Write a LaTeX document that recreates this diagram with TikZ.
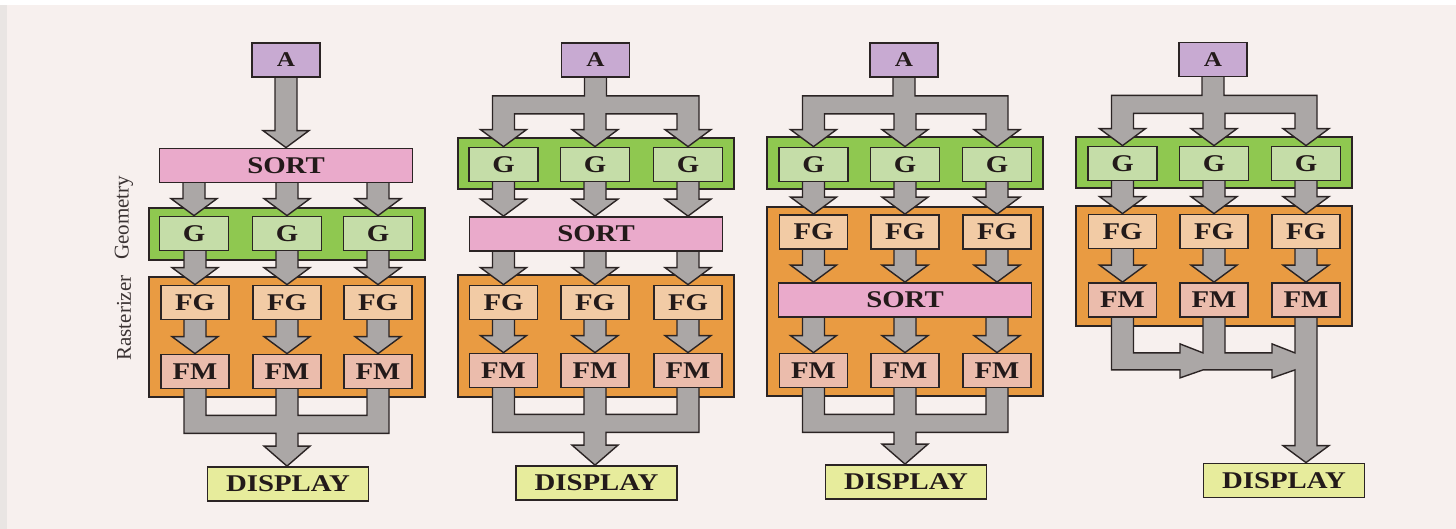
\documentclass[tikz,border=0pt]{standalone}
\usepackage{fontspec}
\setmainfont{Liberation Serif}
\newfontfamily\boxfont[FakeStretch=1.2]{Liberation Serif}
\usetikzlibrary{calc}
\pgfdeclarelayer{bg}
\pgfdeclarelayer{mid}
\pgfsetlayers{bg,mid,main}
\definecolor{bgC}{HTML}{F7F0EE}
\definecolor{bandC}{HTML}{E9E5E3}
\definecolor{aC}{HTML}{C8AAD2}
\definecolor{sortC}{HTML}{EAAACB}
\definecolor{grnC}{HTML}{8FC850}
\definecolor{gC}{HTML}{C5DDA8}
\definecolor{orgC}{HTML}{E99B42}
\definecolor{fgC}{HTML}{F2CBA5}
\definecolor{fmC}{HTML}{EBBCAC}
\definecolor{dispC}{HTML}{E7EC9C}
\definecolor{arrC}{HTML}{ABA7A6}
\definecolor{lineC}{HTML}{2B2424}
\definecolor{txtC}{HTML}{231A1A}
\definecolor{lblC}{HTML}{3A3232}

% simple block arrow: from node #1 to node #2, in the column of node #3
\newcommand{\barrow}[3]{%
  \coordinate (t) at (#3.center |- #2.north);
  \coordinate (s) at (#3.center |- #1.south);
  \draw[arr] ($(s)+(-11,-3)$) -- ($(t)+(-11,-17)$) -- ++(-12,0) -- (t)
    -- ++(23,-17) -- ++(-12,0) -- ($(s)+(11,-3)$) -- cycle;}

% fan-out from #1 to #2,#3,#4
\newcommand{\fanout}[4]{%
  \draw[arr] ($(#1.south)+(-11,-3)$)
    -- ($(#1.south)+(-11,18)$)
    -| ($(#2.north)+(-11,-17)$)
    -- ++(-12,0) -- (#2.north) -- ++(23,-17) -- ++(-12,0)
    -- ($(#2.north |- #1.south)+(11,36)$)
    -| ($(#3.north)+(-11,-17)$)
    -- ++(-12,0) -- (#3.north) -- ++(23,-17) -- ++(-12,0)
    -- ($(#3.north |- #1.south)+(11,36)$)
    -| ($(#4.north)+(-11,-17)$)
    -- ++(-12,0) -- (#4.north) -- ++(23,-17) -- ++(-12,0)
    -- ($(#4.north |- #1.south)+(11,18)$)
    -- ($(#1.south)+(11,18)$)
    -- ($(#1.south)+(11,-3)$) -- cycle;}

% fan-in from #1,#2,#3 to #4 (through the middle column)
\newcommand{\fanin}[4]{%
  \coordinate (t) at (#2.center |- #4.north);
  \draw[arr] ($(#1.south)+(-11,-3)$)
    -- ($(#1.south)+(-11,44)$)
    -| ($(t)+(-11,-20)$)
    -- ++(-12,0) -- (t) -- ++(23,-20) -- ++(-12,0)
    |- ($(#3.south)+(11,44)$)
    -- ($(#3.south)+(11,-3)$)
    -- ($(#3.south)+(-11,-3)$)
    -- ($(#3.south)+(-11,26)$)
    -- ($(#2.south)+(11,26)$)
    -- ($(#2.south)+(11,-3)$)
    -- ($(#2.south)+(-11,-3)$)
    -- ($(#2.south)+(-11,26)$)
    -- ($(#1.south)+(11,26)$)
    -- ($(#1.south)+(11,-3)$) -- cycle;}

% fan-in to the right column, with right-pointing heads
\newcommand{\faninR}[4]{%
  \coordinate (t) at (#3.center |- #4.north);
  \draw[arr] ($(#1.south)+(-11,-3)$)
    -- ($(#1.south)+(-11,52)$)
    -- ($(#2.south)+(-34,52)$)
    -- ($(#2.south)+(-34,60)$)
    -- ($(#2.south)+(-11,52)$)
    -- ($(#3.south)+(-34,52)$)
    -- ($(#3.south)+(-34,60)$)
    -- ($(#3.south)+(-11,52)$)
    -- ($(t)+(-11,-17)$)
    -- ++(-12,0) -- (t) -- ++(23,-17) -- ++(-12,0)
    -- ($(#3.south)+(11,-3)$)
    -- ($(#3.south)+(-11,-3)$)
    -- ($(#3.south)+(-11,35)$)
    -- ($(#3.south)+(-34,26)$)
    -- ($(#3.south)+(-34,35)$)
    -- ($(#2.south)+(11,35)$)
    -- ($(#2.south)+(11,-3)$)
    -- ($(#2.south)+(-11,-3)$)
    -- ($(#2.south)+(-11,35)$)
    -- ($(#2.south)+(-34,26)$)
    -- ($(#2.south)+(-34,35)$)
    -- ($(#1.south)+(11,35)$)
    -- ($(#1.south)+(11,-3)$) -- cycle;}

\begin{document}
\begin{tikzpicture}[x=1pt,y=-1pt,
  box/.style={draw=lineC, line width=1.8pt, inner sep=0pt, text=txtC,
    font=\boxfont\bfseries\fontsize{24}{24}\selectfont},
  abox/.style={box, fill=aC, minimum width=68pt, minimum height=34pt,
    font=\boxfont\bfseries\fontsize{21}{21}\selectfont},
  sortbox/.style={box, fill=sortC, minimum width=253pt, minimum height=34pt},
  gbox/.style={box, fill=gC, minimum width=69pt, minimum height=34pt},
  fgbox/.style={box, fill=fgC, minimum width=68pt, minimum height=34pt},
  fmbox/.style={box, fill=fmC, minimum width=68pt, minimum height=34pt},
  dispbox/.style={box, fill=dispC, minimum width=161pt, minimum height=34pt},
  grncont/.style={draw=lineC, line width=2pt, fill=grnC, inner sep=0pt, minimum width=276pt},
  orgcont/.style={draw=lineC, line width=2pt, fill=orgC, inner sep=0pt, minimum width=276pt},
  arr/.style={fill=arrC, draw=lineC, line width=1.4pt, line join=miter},
  lbl/.style={rotate=90, inner sep=0pt, text=lblC, font=\fontsize{21}{21}\selectfont}]
\useasboundingbox (0,0) rectangle (1456,529);

\begin{pgfonlayer}{bg}
  \fill[bgC] (0,0) rectangle (1456,529);
  \fill[bandC] (0,0) rectangle (7,529);
  \fill[white] (0,0) rectangle (1456,5);
  % containers
  \node[grncont, minimum height=52pt] (GR1) at (287,234) {};
  \node[orgcont, minimum height=120pt] (OR1) at (287,337) {};
  \node[grncont, minimum height=51pt] (GR2) at (595.5,163.5) {};
  \node[orgcont, minimum height=122pt] (OR2) at (595.5,336) {};
  \node[grncont, minimum height=52pt] (GR3) at (905,163) {};
  \node[orgcont, minimum height=189pt] (OR3) at (905,301.5) {};
  \node[grncont, minimum height=51pt] (GR4) at (1214,162.5) {};
  \node[orgcont, minimum height=120pt] (OR4) at (1214,266) {};
\end{pgfonlayer}

% side labels
\node[lbl] (geo) at (124,218) {Geometry};
\node[lbl] (ras) at (124,318) {Rasterizer};

% ---------- panel 1
\node[abox] (A1) at (286,60) {A};
\node[sortbox] (S1) at (286,165.5) {SORT};
\node[gbox] (G11) at (194,233.5) {G};
\node[gbox] (G12) at (287,233.5) {G};
\node[gbox] (G13) at (378,233.5) {G};
\node[fgbox] (F11) at (195,302.5) {FG};
\node[fgbox] (F12) at (287,302.5) {FG};
\node[fgbox] (F13) at (378,302.5) {FG};
\node[fmbox] (M11) at (195,371.5) {FM};
\node[fmbox] (M12) at (287,371.5) {FM};
\node[fmbox] (M13) at (378,371.5) {FM};
\node[dispbox] (D1) at (288,484) {DISPLAY};

% ---------- panel 2
\node[abox] (A2) at (595.5,60) {A};
\node[gbox] (G21) at (503.5,164.5) {G};
\node[gbox] (G22) at (595,164.5) {G};
\node[gbox] (G23) at (688,164.5) {G};
\node[sortbox] (S2) at (596,234) {SORT};
\node[fgbox] (F21) at (503.5,302.5) {FG};
\node[fgbox] (F22) at (595,302.5) {FG};
\node[fgbox] (F23) at (688,302.5) {FG};
\node[fmbox] (M21) at (503.5,370.5) {FM};
\node[fmbox] (M22) at (595,370.5) {FM};
\node[fmbox] (M23) at (688,370.5) {FM};
\node[dispbox] (D2) at (596.5,483) {DISPLAY};

% ---------- panel 3
\node[abox] (A3) at (904,60) {A};
\node[gbox] (G31) at (813.5,164.5) {G};
\node[gbox] (G32) at (905,164.5) {G};
\node[gbox] (G33) at (997,164.5) {G};
\node[fgbox] (F31) at (813.5,232) {FG};
\node[fgbox] (F32) at (905,232) {FG};
\node[fgbox] (F33) at (997,232) {FG};
\node[sortbox] (S3) at (905,300) {SORT};
\node[fmbox] (M31) at (813.5,370.5) {FM};
\node[fmbox] (M32) at (905,370.5) {FM};
\node[fmbox] (M33) at (997,370.5) {FM};
\node[dispbox] (D3) at (906,482) {DISPLAY};

% ---------- panel 4
\node[abox] (A4) at (1213,59.5) {A};
\node[gbox] (G41) at (1122.5,163.5) {G};
\node[gbox] (G42) at (1214,163.5) {G};
\node[gbox] (G43) at (1306,163.5) {G};
\node[fgbox] (F41) at (1122.5,231.5) {FG};
\node[fgbox] (F42) at (1214,231.5) {FG};
\node[fgbox] (F43) at (1306,231.5) {FG};
\node[fmbox] (M41) at (1122.5,300) {FM};
\node[fmbox] (M42) at (1214,300) {FM};
\node[fmbox] (M43) at (1306,300) {FM};
\node[dispbox] (D4) at (1284,480.5) {DISPLAY};

\begin{pgfonlayer}{mid}
  % panel 1
  \barrow{A1}{S1}{A1}
  \barrow{S1}{G11}{G11}\barrow{S1}{G12}{G12}\barrow{S1}{G13}{G13}
  \barrow{G11}{F11}{F11}\barrow{G12}{F12}{F12}\barrow{G13}{F13}{F13}
  \barrow{F11}{M11}{M11}\barrow{F12}{M12}{M12}\barrow{F13}{M13}{M13}
  \fanin{M11}{M12}{M13}{D1}
  % panel 2
  \fanout{A2}{G21}{G22}{G23}
  \barrow{G21}{S2}{G21}\barrow{G22}{S2}{G22}\barrow{G23}{S2}{G23}
  \barrow{S2}{F21}{F21}\barrow{S2}{F22}{F22}\barrow{S2}{F23}{F23}
  \barrow{F21}{M21}{M21}\barrow{F22}{M22}{M22}\barrow{F23}{M23}{M23}
  \fanin{M21}{M22}{M23}{D2}
  % panel 3
  \fanout{A3}{G31}{G32}{G33}
  \barrow{G31}{F31}{F31}\barrow{G32}{F32}{F32}\barrow{G33}{F33}{F33}
  \barrow{F31}{S3}{F31}\barrow{F32}{S3}{F32}\barrow{F33}{S3}{F33}
  \barrow{S3}{M31}{M31}\barrow{S3}{M32}{M32}\barrow{S3}{M33}{M33}
  \fanin{M31}{M32}{M33}{D3}
  % panel 4
  \fanout{A4}{G41}{G42}{G43}
  \barrow{G41}{F41}{F41}\barrow{G42}{F42}{F42}\barrow{G43}{F43}{F43}
  \barrow{F41}{M41}{M41}\barrow{F42}{M42}{M42}\barrow{F43}{M43}{M43}
  \faninR{M41}{M42}{M43}{D4}
\end{pgfonlayer}
\end{tikzpicture}
\end{document}
